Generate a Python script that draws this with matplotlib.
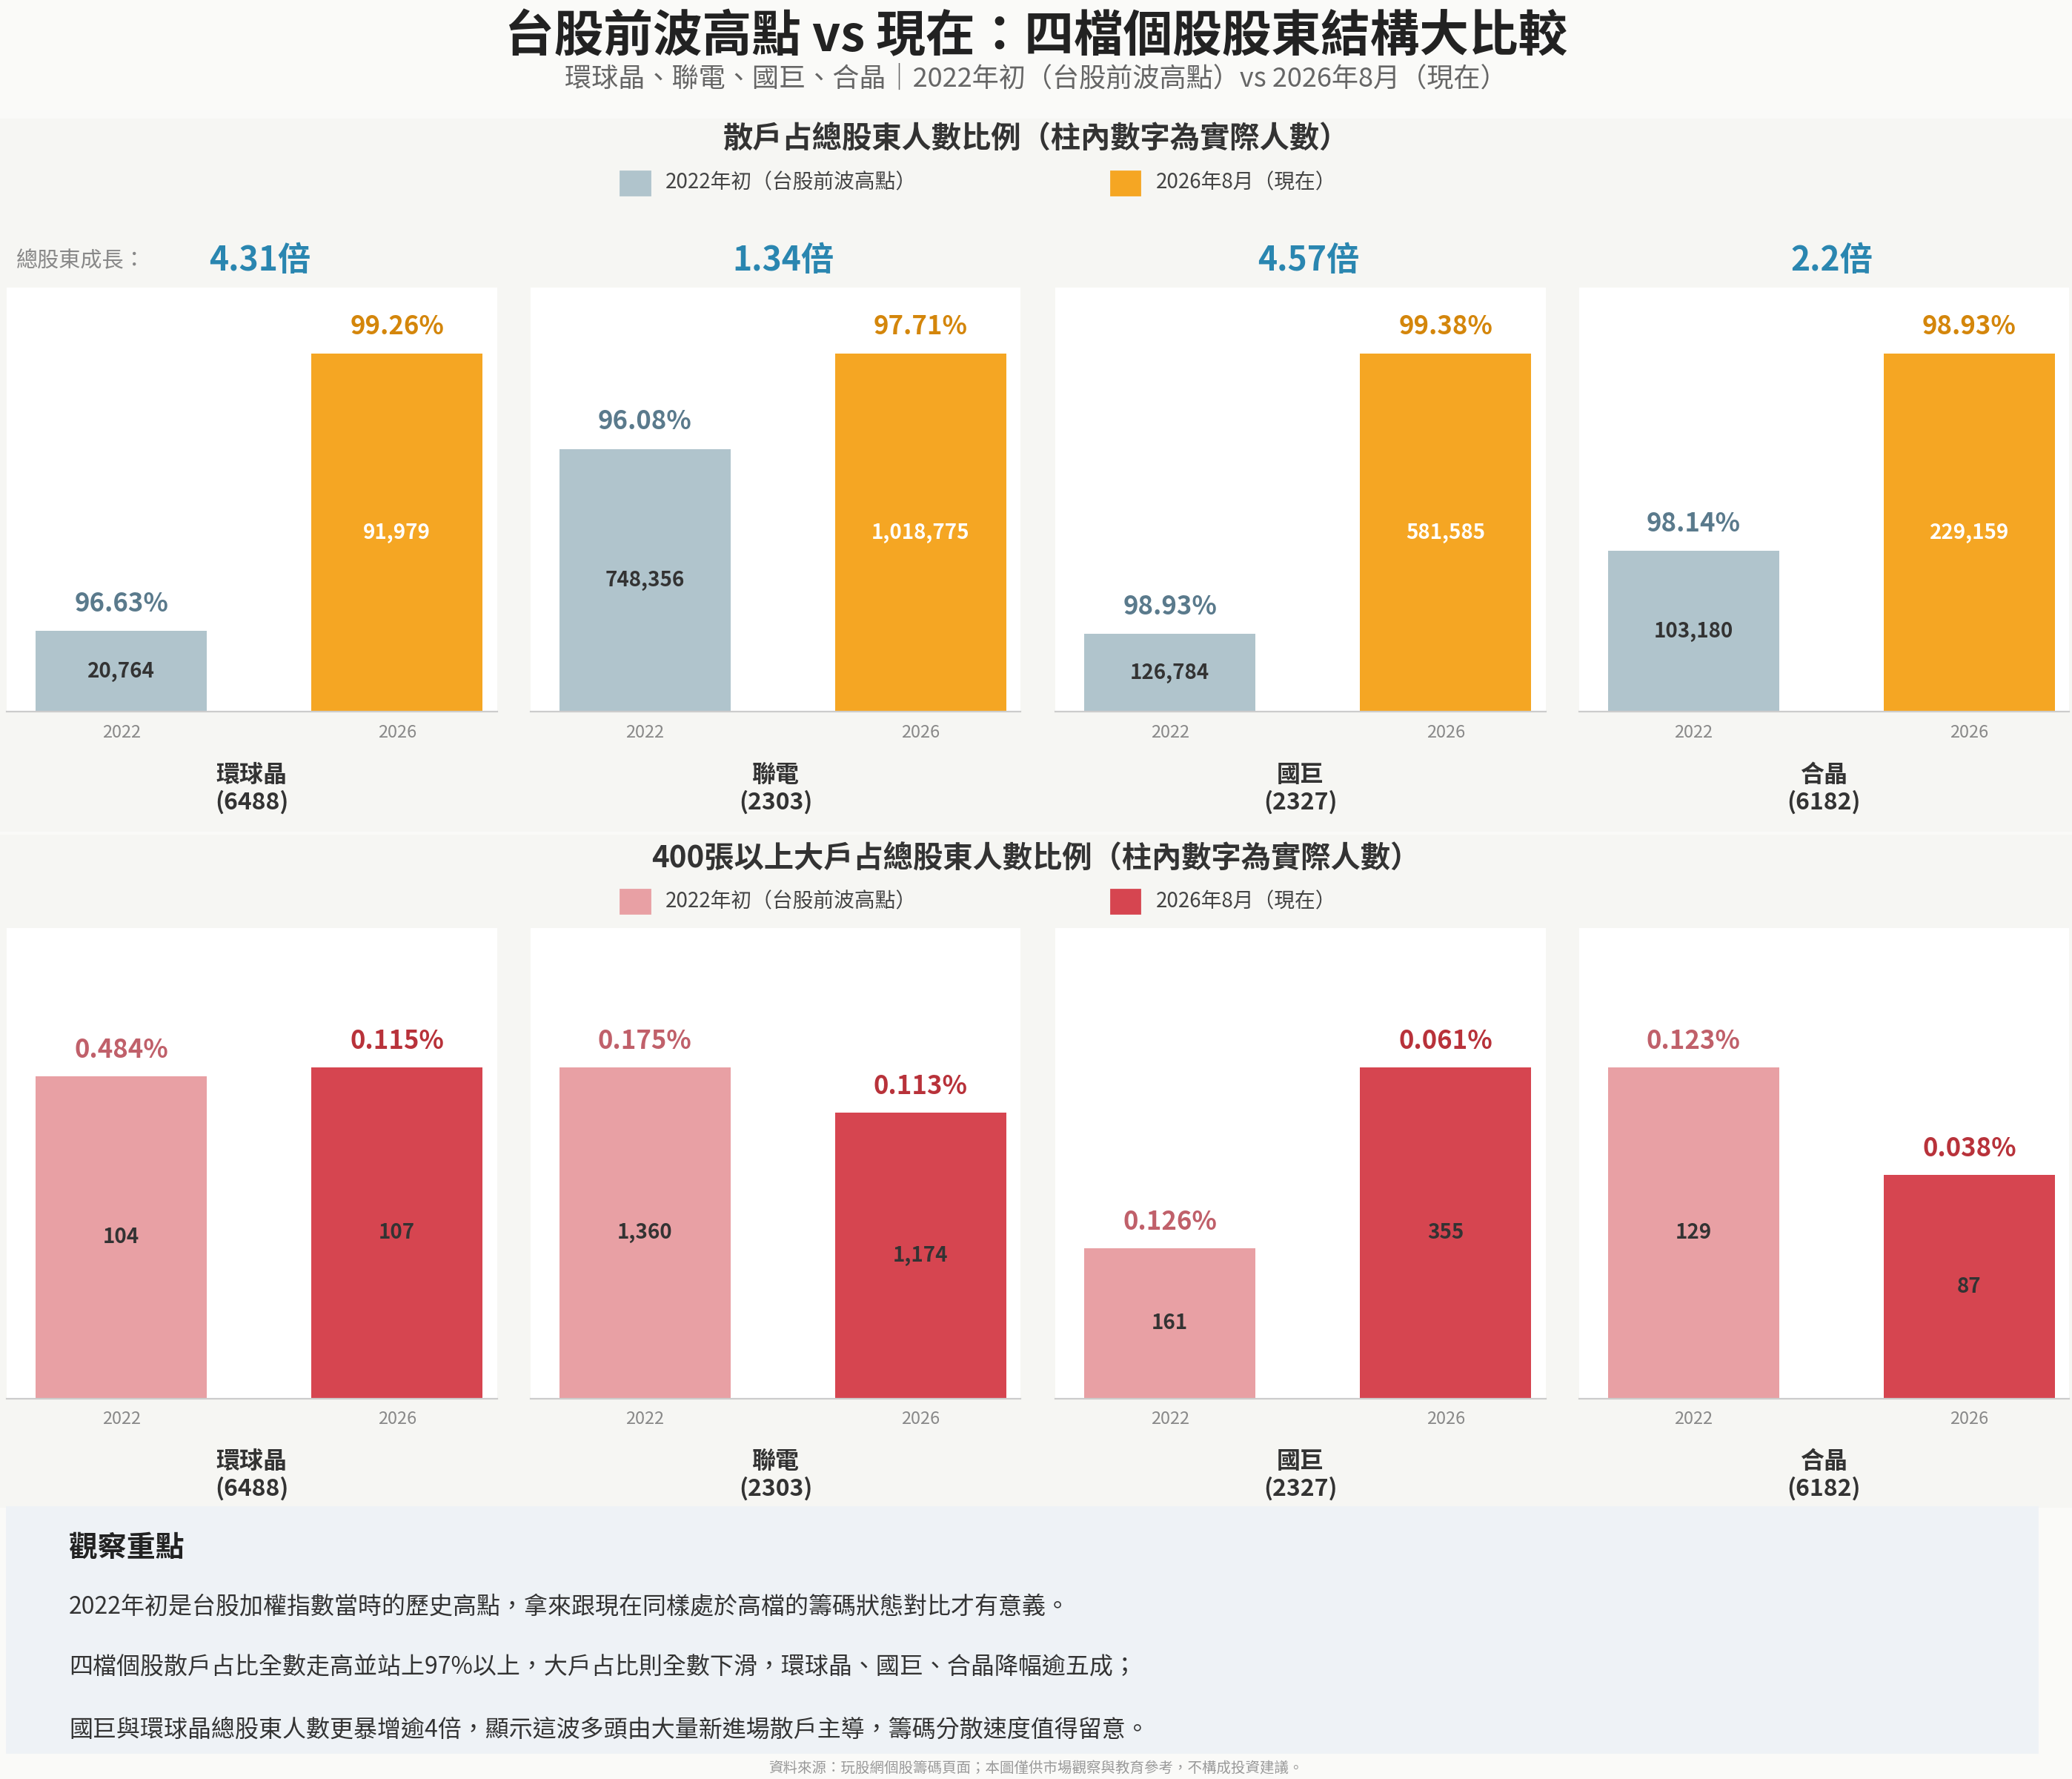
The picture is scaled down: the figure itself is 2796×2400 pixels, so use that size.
import matplotlib.pyplot as plt
from matplotlib.patches import Rectangle

plt.rcParams['font.family'] = ['Noto Sans CJK TC', 'DejaVu Sans']

# ==== Data ====
stocks = ['環球晶\n(6488)', '聯電\n(2303)', '國巨\n(2327)', '合晶\n(6182)']
years = ['2022', '2026']
growth = ['4.31倍', '1.34倍', '4.57倍', '2.2倍']
retail_cnt_2022 = [20764, 748356, 126784, 103180]
retail_cnt_2026 = [91979, 1018775, 581585, 229159]
retail_pct_2022 = ['96.63%', '96.08%', '98.93%', '98.14%']
retail_pct_2026 = ['99.26%', '97.71%', '99.38%', '98.93%']
big_cnt_2022 = [104, 1360, 161, 129]
big_cnt_2026 = [107, 1174, 355, 87]
big_pct_2022 = ['0.484%', '0.175%', '0.126%', '0.123%']
big_pct_2026 = ['0.115%', '0.113%', '0.061%', '0.038%']
notes = ['2022年初是台股加權指數當時的歷史高點，拿來跟現在同樣處於高檔的籌碼狀態對比才有意義。',
         '四檔個股散戶占比全數走高並站上97%以上，大戶占比則全數下滑，環球晶、國巨、合晶降幅逾五成；',
         '國巨與環球晶總股東人數更暴增逾4倍，顯示這波多頭由大量新進場散戶主導，籌碼分散速度值得留意。']

W, H = 1563, 1342
fig = plt.figure(figsize=(13.98, 12), dpi=200)
fig.patch.set_facecolor('#fafaf8')


def fx(x):
    return x / W


def fy(y):
    return 1 - y / H


def rect(x0, y0, x1, y1):
    return [fx(x0), fy(y1), fx(x1) - fx(x0), fy(y0) - fy(y1)]


def frect(x0, y0, x1, y1, color, z=-10):
    fig.add_artist(Rectangle((fx(x0), fy(y1)), fx(x1) - fx(x0), fy(y0) - fy(y1),
                             transform=fig.transFigure, color=color, zorder=z))


# section backgrounds
frect(0, 90, W, 626, '#f6f6f3')
frect(0, 630, W, 1136, '#f6f6f3')
frect(5, 1137, 1537, 1322, '#eef2f6')

fig.text(0.5, fy(28), '台股前波高點 vs 現在：四檔個股股東結構大比較', ha='center', va='center',
         fontsize=24, fontweight='bold', color='#222222')
fig.text(0.5, fy(60), '環球晶、聯電、國巨、合晶｜2022年初（台股前波高點）vs 2026年8月（現在）',
         ha='center', va='center', fontsize=13, color='#666666')


def legend(y, c1, c2):
    for x, c, t in [(468, c1, '2022年初（台股前波高點）'), (838, c2, '2026年8月（現在）')]:
        frect(x, y - 9, x + 22, y + 9, c, z=1)
        fig.text(fx(x + 34), fy(y), t, ha='left', va='center', fontsize=10, color='#444444')


panels_x = [5, 400, 796, 1191]


def section(y_title, y_leg, py0, py1, c1, c2, pc1, pc2, tc2, cnt1, cnt2, pct1, pct2, ymul, title):
    fig.text(0.5, fy(y_title), title, ha='center', va='center', fontsize=14.5,
             fontweight='bold', color='#333333')
    legend(y_leg, c1, c2)
    for i, x0 in enumerate(panels_x):
        ax = fig.add_axes(rect(x0, py0, x0 + 370, py1))
        ax.set_facecolor('white')
        vals = [cnt1[i], cnt2[i]]
        ax.bar([0, 1], vals, width=0.62, color=[c1, c2])
        ax.set_xlim(-0.416, 1.363)
        ax.set_ylim(0, max(vals) * ymul)
        for j, (v, p, pc, tc) in enumerate(zip(vals, [pct1[i], pct2[i]], [pc1, pc2], ['#333333', tc2])):
            ax.text(j, v / 2, f'{v:,}', ha='center', va='center', fontsize=10,
                    fontweight='bold', color=tc)
            ax.text(j, v + max(vals) * 0.04, p, ha='center', va='bottom', fontsize=12.5,
                    fontweight='bold', color=pc)
        ax.set_xticks([0, 1], years)
        ax.set_yticks([])
        ax.tick_params(axis='x', length=0, labelsize=8.5, labelcolor='#888888', pad=6)
        for s in ['top', 'left', 'right']:
            ax.spines[s].set_visible(False)
        ax.spines['bottom'].set_color('#cccccc')
        fig.text(fx(x0 + 185), fy(py1 + 58), stocks[i], ha='center', va='center',
                 fontsize=11.5, fontweight='bold', color='#333333', linespacing=1.15)


section(105, 138, 217, 537, '#b0c4cc', '#f5a623', '#5a7a8c', '#d4860b', 'white',
        retail_cnt_2022, retail_cnt_2026, retail_pct_2022, retail_pct_2026, 1.185,
        '散戶占總股東人數比例（柱內數字為實際人數）')
section(648, 680, 700, 1055, '#e8a0a4', '#d64550', '#c0606a', '#b8323a', '#333333',
        big_cnt_2022, big_cnt_2026, big_pct_2022, big_pct_2026, 1.42,
        '400張以上大戶占總股東人數比例（柱內數字為實際人數）')

fig.text(fx(12), fy(197), '總股東成長：', ha='left', va='center', fontsize=10.5, color='#888888')
for x0, g in zip(panels_x, growth):
    fig.text(fx(x0 + 191), fy(197), g, ha='center', va='center', fontsize=16,
             fontweight='bold', color='#2a86b0')

fig.text(fx(52), fy(1168), '觀察重點', ha='left', va='center', fontsize=14,
         fontweight='bold', color='#222222')
for y, t in zip([1212, 1258, 1305], notes):
    fig.text(fx(52), fy(y), t, ha='left', va='center', fontsize=11.5, color='#333333')
fig.text(0.5, fy(1334), '資料來源：玩股網個股籌碼頁面；本圖僅供市場觀察與教育參考，不構成投資建議。',
         ha='center', va='center', fontsize=7, color='#999999')

fig.savefig('out.png', dpi=200, facecolor=fig.get_facecolor())
